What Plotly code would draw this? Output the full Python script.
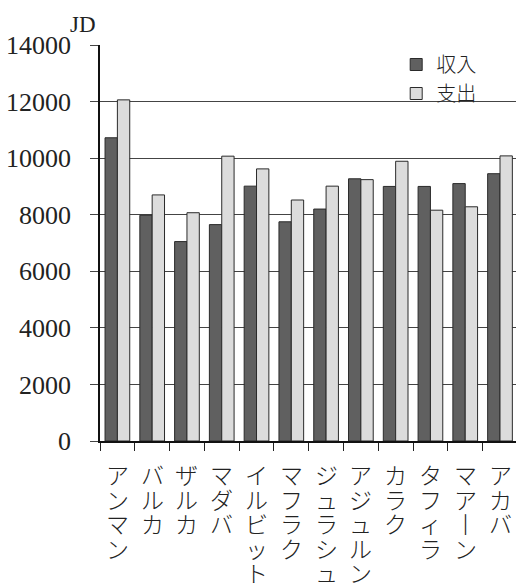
import plotly.graph_objects as go

categories = ["アンマン", "バルカ", "ザルカ", "マダバ", "イルビット", "マフラク",
              "ジュラシュ", "アジュルン", "カラク", "タフィラ", "マアーン", "アカバ"]
income = [10720, 7980, 7050, 7650, 9010, 7750, 8200, 9270, 9000, 9000, 9100, 9450]
expense = [12060, 8700, 8070, 10070, 9620, 8520, 9010, 9240, 9890, 8160, 8280, 10080]
series_names = ["収入", "支出"]
y_ticks = [0, 2000, 4000, 6000, 8000, 10000, 12000, 14000]
y_tick_text = ["0", "2000", "4000", "6000", "8000", "10000", "12000", "14000"]
unit_label = "JD"

serif = "Liberation Serif, Times New Roman, serif"
cjk = "Noto Sans CJK JP, sans-serif"

fig = go.Figure()
fig.add_trace(go.Bar(x=categories, y=income, name=series_names[0],
                     marker=dict(color="#606060", line=dict(color="#2a2a2a", width=1))))
fig.add_trace(go.Bar(x=categories, y=expense, name=series_names[1],
                     marker=dict(color="#dcdcdc", line=dict(color="#2a2a2a", width=1))))

# vertical (tategaki) category labels, one character per annotation
annotations = []
for cat in categories:
    for j, ch in enumerate(cat):
        if ch == "ー":
            ch = "丨"
        annotations.append(dict(x=cat, xref="x", y=0, yref="paper", yanchor="middle",
                                xanchor="center", yshift=-(33 + 24.5 * j), showarrow=False,
                                text=ch, font=dict(family=cjk, size=23, color="#222", weight=300)))
annotations.append(dict(x=-0.04, xref="paper", y=1.0, yref="paper", yanchor="bottom",
                        xanchor="center", yshift=6, showarrow=False, text=unit_label,
                        font=dict(family=serif, size=23, color="#222")))

fig.update_layout(
    width=516, height=585,
    margin=dict(l=100, r=0, t=45, b=144),
    paper_bgcolor="white", plot_bgcolor="white",
    barmode="group", bargap=0.29, bargroupgap=0,
    showlegend=True,
    legend=dict(x=0.712, y=1.0, xanchor="left", yanchor="top",
                bgcolor="rgba(0,0,0,0)", font=dict(family=cjk, size=20, color="#222", weight=300),
                itemwidth=30, tracegroupgap=0),
    annotations=annotations,
)
fig.update_xaxes(
    range=[-0.5, 11.46], showticklabels=False, ticks="outside", ticklen=8,
    tickson="boundaries", tickcolor="#222", showline=True, linecolor="#111",
    linewidth=1.5, showgrid=False, zeroline=False,
)
fig.update_yaxes(
    range=[0, 14000], tickvals=y_ticks, ticktext=y_tick_text, ticks="outside", ticklen=8,
    tickcolor="#444",
    tickfont=dict(family=serif, size=26, color="#222"), ticklabelstandoff=14,
    showgrid=True, gridcolor="#444", gridwidth=1, showline=True, linecolor="#111",
    linewidth=1.5, zeroline=False,
)

fig.write_html("out.html")
